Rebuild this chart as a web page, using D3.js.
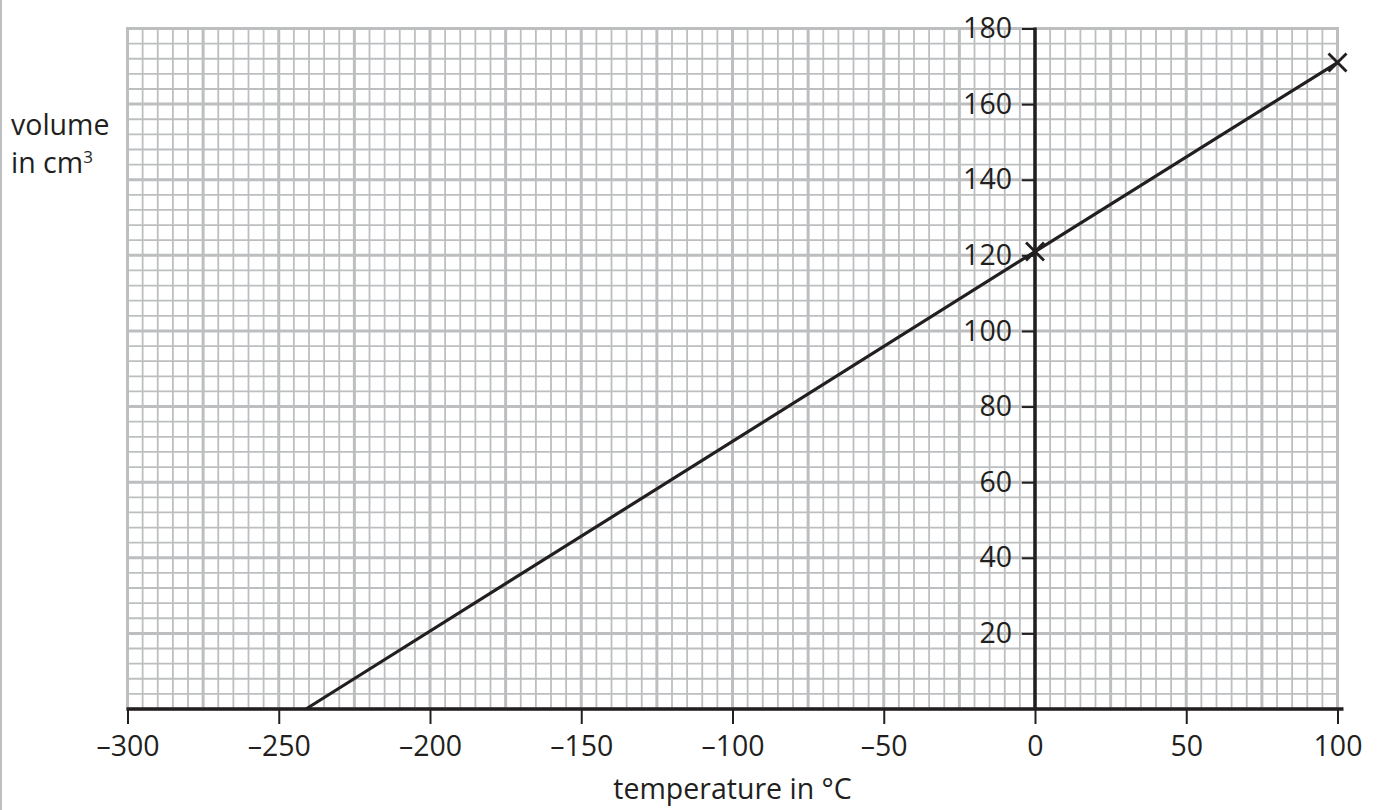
<!DOCTYPE html>
<html><head><meta charset="utf-8">
<script src="https://cdn.jsdelivr.net/npm/d3@7"></script>
<style>
html,body{margin:0;padding:0;background:#fff;}
svg{display:block;font-family:"Open Sans",sans-serif;}
</style></head>
<body>
<svg id="chart" width="1378" height="810"></svg>
<script>
// ---- data ----
const xDomain = [-300, 100];
const yDomain = [0, 180];
const xTickValues = [-300, -250, -200, -150, -100, -50, 0, 50, 100];
const xTickLabels = ["–300", "–250", "–200", "–150", "–100", "–50", "0", "50", "100"];
const yTickValues = [20, 40, 60, 80, 100, 120, 140, 160, 180];
const yTickLabels = ["20", "40", "60", "80", "100", "120", "140", "160", "180"];
const lineTemps = [-241, 0, 100];
const lineVolumes = [0, 121, 171];
const markTemps = [0, 100];
const markVolumes = [121, 171];
const xTitle = "temperature in °C";
const yTitleLine1 = "volume";
const yTitleLine2 = "in cm";

// ---- layout ----
const svg = d3.select("#chart");
const ink = "#231f20";
const gridColor = "#bcbec0";
const fs = "28.5px";
const x = d3.scaleLinear().domain(xDomain).range([127.5, 1337.5]);
const y = d3.scaleLinear().domain(yDomain).range([709, 28.5]);

svg.append("rect").attr("width", 1378).attr("height", 810).attr("fill", "#fff");
svg.append("line").attr("x1", 1).attr("x2", 1).attr("y1", 0).attr("y2", 810)
  .attr("stroke", gridColor).attr("stroke-width", 2);

// grid
const g = svg.append("g");
const minorX = d3.range(xDomain[0], xDomain[1] + 0.1, 5).filter(v => v % 25 !== 0);
const majorX = d3.range(xDomain[0], xDomain[1] + 0.1, 25);
const minorY = d3.range(yDomain[0], yDomain[1] + 0.1, 4).filter(v => v % 20 !== 0);
const majorY = d3.range(yDomain[0], yDomain[1] + 0.1, 20);

g.selectAll(".mx").data(minorX).join("line")
  .attr("x1", d => x(d)).attr("x2", d => x(d)).attr("y1", y(180)).attr("y2", y(0))
  .attr("stroke", gridColor).attr("stroke-width", 1.8);
g.selectAll(".my").data(minorY).join("line")
  .attr("y1", d => y(d)).attr("y2", d => y(d)).attr("x1", x(-300)).attr("x2", x(100))
  .attr("stroke", gridColor).attr("stroke-width", 1.8);
g.selectAll(".Mx").data(majorX).join("line")
  .attr("x1", d => x(d)).attr("x2", d => x(d)).attr("y1", y(180)).attr("y2", y(0))
  .attr("stroke", gridColor).attr("stroke-width", 3);
g.selectAll(".My").data(majorY).join("line")
  .attr("y1", d => y(d)).attr("y2", d => y(d)).attr("x1", x(-300) - 1.5).attr("x2", x(100) + 1.5)
  .attr("stroke", gridColor).attr("stroke-width", 3);

// x axis
const xAxis = d3.axisBottom(x).tickValues(xTickValues)
  .tickFormat((d, i) => xTickLabels[i]).tickSize(15).tickPadding(12);
const gx = svg.append("g").attr("transform", `translate(0,${y(0)})`).call(xAxis);
gx.select(".domain").remove();
gx.selectAll(".tick line").attr("stroke", ink).attr("stroke-width", 2);
gx.selectAll(".tick text").attr("fill", ink).style("font-size", fs)
  .style("font-family", "'Open Sans',sans-serif");
svg.append("line").attr("x1", x(-300) - 1).attr("x2", x(100) + 6)
  .attr("y1", y(0)).attr("y2", y(0)).attr("stroke", ink).attr("stroke-width", 3.5);

// y axis at x=0
const yAxis = d3.axisLeft(y).tickValues(yTickValues)
  .tickFormat((d, i) => yTickLabels[i]).tickSize(13).tickPadding(10);
const gy = svg.append("g").attr("transform", `translate(${x(0)},0)`).call(yAxis);
gy.select(".domain").remove();
gy.selectAll(".tick line").attr("stroke", ink).attr("stroke-width", 2);
gy.selectAll(".tick text").attr("fill", ink).style("font-size", fs)
  .style("font-family", "'Open Sans',sans-serif");
svg.append("line").attr("x1", x(0)).attr("x2", x(0))
  .attr("y1", y(180) - 1).attr("y2", y(0)).attr("stroke", ink).attr("stroke-width", 3.5);

// data line
const pts = lineTemps.map((t, i) => [t, lineVolumes[i]]);
svg.append("path").datum(pts)
  .attr("d", d3.line().x(d => x(d[0])).y(d => y(d[1])))
  .attr("fill", "none").attr("stroke", ink).attr("stroke-width", 3.2);

// cross marks
const s = 9;
const marks = markTemps.map((t, i) => [x(t), y(markVolumes[i])]);
const mg = svg.append("g").attr("stroke", ink).attr("stroke-width", 2.8);
marks.forEach(([cx, cy]) => {
  mg.append("line").attr("x1", cx - s).attr("y1", cy - s).attr("x2", cx + s).attr("y2", cy + s);
  mg.append("line").attr("x1", cx - s).attr("y1", cy + s).attr("x2", cx + s).attr("y2", cy - s);
});

// titles
svg.append("text").attr("x", (x(-300) + x(100)) / 2).attr("y", 799)
  .attr("text-anchor", "middle").attr("fill", ink).style("font-size", fs)
  .text(xTitle);
svg.append("text").attr("x", 11).attr("y", 135).attr("fill", ink).style("font-size", fs)
  .text(yTitleLine1);
const t2 = svg.append("text").attr("x", 11).attr("y", 173).attr("fill", ink).style("font-size", fs)
  .text(yTitleLine2);
t2.append("tspan").attr("dy", -10).style("font-size", "17px").text("3");
</script>
</body></html>
